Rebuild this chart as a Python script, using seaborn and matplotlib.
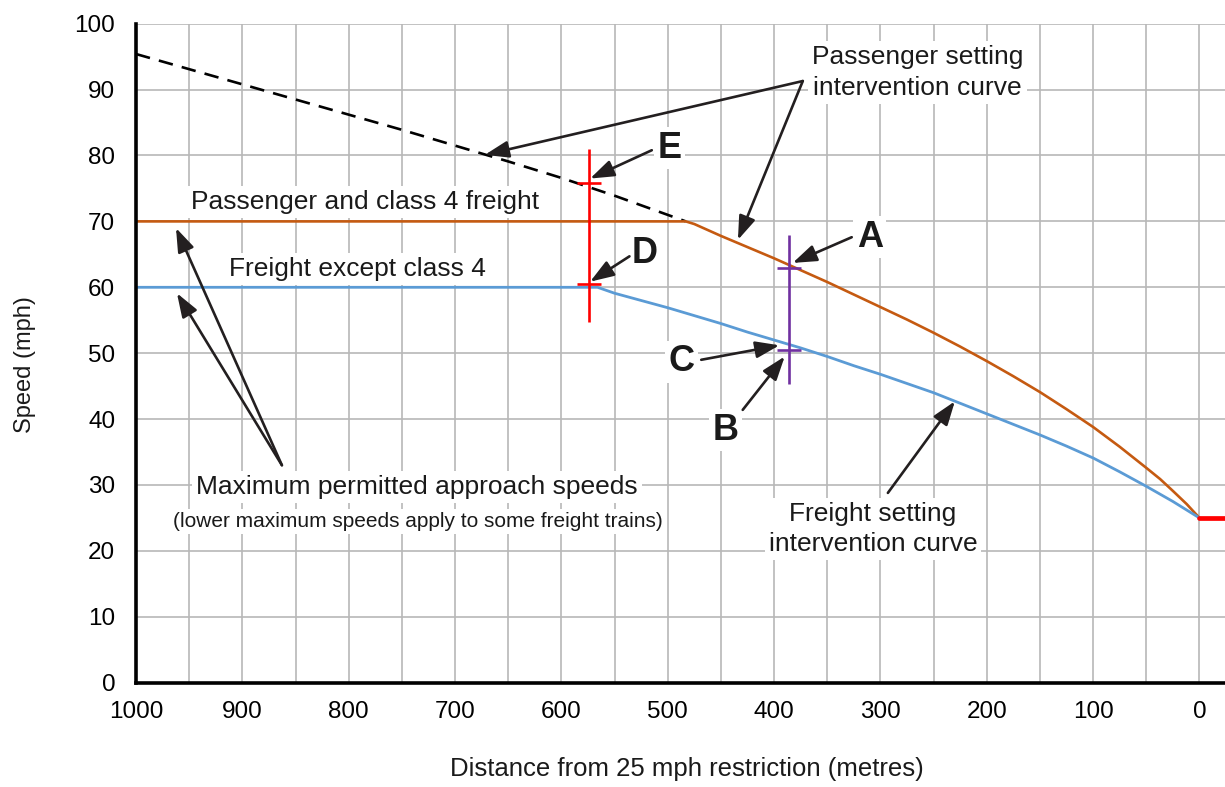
import matplotlib
matplotlib.use("Agg")
import matplotlib.pyplot as plt
import seaborn as sns
import numpy as np

# Passenger and class 4 freight: max speed then braking (intervention) curve
pass_dist = [1000, 483, 475, 450, 425, 400, 375, 350, 325, 300, 275, 250, 225, 200,
             175, 150, 125, 100, 75, 50, 37, 25, 12, 0]
pass_speed = [70, 70, 69.6, 67.8, 66.1, 64.4, 62.6, 60.8, 58.9, 57.0, 55.1, 53.1, 51.0, 48.8,
              46.5, 44.1, 41.5, 38.8, 35.8, 32.6, 30.9, 29.1, 27.1, 25.0]

# passenger intervention curve continued above line speed (dashed)
dash_dist = [1000, 950, 900, 850, 800, 750, 700, 650, 600, 550, 483]
dash_speed = [95.4, 93.1, 90.8, 88.5, 86.2, 83.9, 81.5, 79.1, 76.6, 73.9, 70.0]

# Freight except class 4
frt_dist = [1000, 566, 550, 525, 500, 475, 450, 425, 400, 375, 350, 325, 300, 275, 250,
            225, 200, 175, 150, 125, 100, 75, 50, 25, 0]
frt_speed = [60, 60, 59.1, 58.0, 56.9, 55.7, 54.5, 53.2, 52.0, 50.8, 49.5, 48.1, 46.8, 45.4, 44.0,
             42.4, 40.8, 39.2, 37.6, 35.9, 34.1, 32.0, 29.8, 27.5, 25.0]

# the 25 mph restriction itself
restr_dist = [0, -24]
restr_speed = [25, 25]

# vertical marker bars and their labelled crossings
marker_dist = [574, 386]
marker_low = [54.8, 45.3]
marker_high = [81.0, 68.0]
marker_colors = ["#FF0000", "#7030A0"]
point_names = ["E", "D", "A", "B"]
point_dist = [574, 574, 386, 386]
point_speed = [75.9, 60.5, 63.0, 50.5]
point_colors = ["#FF0000", "#FF0000", "#7030A0", "#7030A0"]

ORANGE = "#C55A11"
BLUE = "#5B9BD5"
ARROW = "#231F20"
TXT = "#1A1A1A"

sns.set_style("whitegrid")
plt.rcParams['font.family'] = ['Liberation Sans', 'DejaVu Sans']

fig = plt.figure(figsize=(12.25, 7.87), dpi=100)
ax = fig.add_axes([136 / 1225, 1 - 682.7 / 787, 1 - 136 / 1225, 659 / 787])

sns.lineplot(x=dash_dist, y=dash_speed, ax=ax, color="black", lw=1.9, sort=False,
             linestyle=(0, (5.5, 3.5)), zorder=3)
sns.lineplot(x=pass_dist, y=pass_speed, ax=ax, color=ORANGE, lw=1.9, sort=False, zorder=3)
sns.lineplot(x=frt_dist, y=frt_speed, ax=ax, color=BLUE, lw=2.0, sort=False, zorder=3)
sns.lineplot(x=restr_dist, y=restr_speed, ax=ax, color="#FF0000", lw=3.4, sort=False, zorder=3)

ax.vlines(marker_dist, marker_low, marker_high, colors=marker_colors, lw=1.9, zorder=4)
for d, s, c in zip(point_dist, point_speed, point_colors):
    ax.hlines(s, d - 11, d + 11, colors=c, lw=1.9, zorder=4)

ax.set_xlim(1000, -24)
ax.set_ylim(0, 100)
ax.set_xticks(np.arange(1000, -1, -100))
ax.set_xticks(np.arange(950, 0, -100), minor=True)
ax.set_yticks(np.arange(0, 101, 10))
ax.grid(which="both", color="#B8B8B8", lw=1.2, zorder=0)
ax.tick_params(axis="both", which="both", length=0, labelsize=17.5, colors="black")
ax.tick_params(axis="x", pad=13)
ax.tick_params(axis="y", pad=15)

for side in ["top", "right"]:
    ax.spines[side].set_visible(False)
for side in ["left", "bottom"]:
    ax.spines[side].set_color("black")
    ax.spines[side].set_linewidth(2.6)
    ax.spines[side].set_zorder(5)

ax.set_xlabel("Distance from 25 mph restriction (metres)", fontsize=18.5, color=TXT)
ax.set_ylabel("Speed (mph)", fontsize=17, color=TXT)
ax.xaxis.set_label_coords(0.506, -0.112)
ax.yaxis.set_label_coords(-0.092, 0.482)

box = dict(boxstyle="square,pad=0.15", facecolor="white", edgecolor="none")
arrow_kw = dict(arrowstyle="-|>,head_length=0.85,head_width=0.3", color=ARROW,
                lw=1.9, shrinkA=0, shrinkB=0, mutation_scale=17)

def arrow(tail, head):
    ax.annotate("", xy=head, xytext=tail, arrowprops=arrow_kw, zorder=6)

# callout texts
ax.text(265, 92.6, "Passenger setting\nintervention curve", ha="center", va="center",
        fontsize=19, color=TXT, linespacing=1.35, bbox=box, zorder=5)
ax.text(307, 23.3, "Freight setting\nintervention curve", ha="center", va="center",
        fontsize=19, color=TXT, linespacing=1.35, bbox=box, zorder=5)
ax.text(948, 72.9, "Passenger and class 4 freight", ha="left", va="center",
        fontsize=19, color=TXT, bbox=box, zorder=5)
ax.text(912.6, 62.8, "Freight except class 4", ha="left", va="center",
        fontsize=19, color=TXT, bbox=box, zorder=5)
ax.text(736, 29.7, "Maximum permitted approach speeds", ha="center", va="center",
        fontsize=19, color=TXT, bbox=box, zorder=5)
ax.text(735.4, 24.5, "(lower maximum speeds apply to some freight trains)", ha="center",
        va="center", fontsize=15, color=TXT, bbox=box, zorder=5)

letters = {"E": (498, 81.1), "D": (521.6, 65.2), "A": (310, 67.6),
           "C": (487, 48.7), "B": (445.5, 38.3)}
for name, (lx, ly) in letters.items():
    ax.text(lx, ly, name, ha="center", va="center", fontsize=26, fontweight="bold",
            color=TXT, bbox=dict(boxstyle="square,pad=0.1", facecolor="white",
                                 edgecolor="none"), zorder=5)

arrow((373, 91.3), (672, 80.1))
arrow((373, 91.3), (434, 67.2))
arrow((515, 80.8), (573, 76.5))
arrow((536, 64.7), (573, 60.85))
arrow((327, 67.6), (382.5, 63.7))
arrow((468.5, 49.0), (395, 51.2))
arrow((429.5, 41.4), (390, 49.5))
arrow((293, 28.8), (230, 42.7))
arrow((862.8, 33.0), (962.4, 69.0))
arrow((862.8, 33.0), (961.5, 59.1))

fig.savefig("out.png", dpi=100, facecolor="white")
